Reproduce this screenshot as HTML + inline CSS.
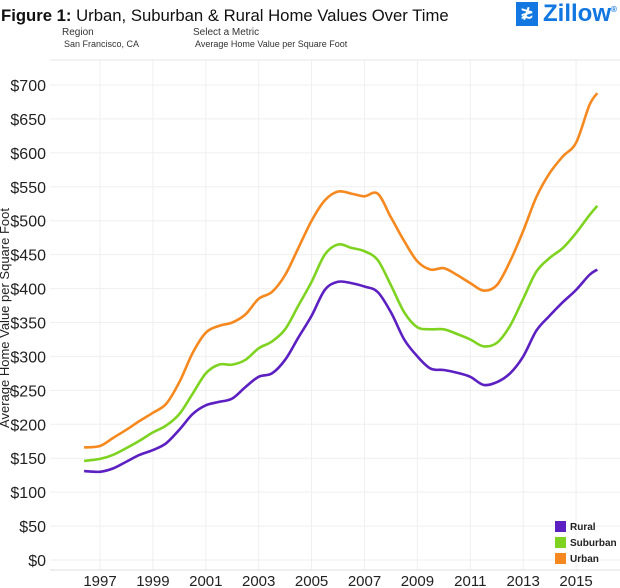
<!DOCTYPE html>
<html><head><meta charset="utf-8"><style>
body{margin:0;background:#fff;font-family:"Liberation Sans",Arial,sans-serif;}
#wrap{position:relative;width:620px;height:588px;overflow:hidden;}
</style></head><body>
<div id="wrap">
<div style="position:absolute;left:1px;top:6px;font-size:16.7px;color:#111;"><b>Figure 1:</b> Urban, Suburban &amp; Rural Home Values Over Time</div>
<div style="position:absolute;left:62px;top:27px;font-size:10px;color:#333;">Region</div>
<div style="position:absolute;left:64px;top:39px;font-size:9px;color:#333;">San Francisco, CA</div>
<div style="position:absolute;left:193px;top:27px;font-size:10px;color:#333;">Select a Metric</div>
<div style="position:absolute;left:195px;top:39px;font-size:9px;color:#333;">Average Home Value per Square Foot</div>
<div style="position:absolute;left:516px;top:2px;width:104px;height:26px;">
<div style="position:absolute;left:0;top:0;width:22px;height:24px;background:#1277e1;color:#fff;font-size:16px;line-height:24px;text-align:center;font-weight:bold;">≵</div>
<div style="position:absolute;left:27px;top:-2px;font-size:24px;font-weight:bold;color:#1277e1;">Zillow<sup style="font-size:8px">®</sup></div>
</div>
<svg id="chart" width="620" height="588" style="position:absolute;left:0;top:0"></svg>
</div>
<script>
const years=[1996.4,1997,1997.5,1998,1998.5,1999,1999.5,2000,2000.5,2001,2001.5,2002,2002.5,2003,2003.5,2004,2004.5,2005,2005.5,2006,2006.5,2007,2007.5,2008,2008.5,2009,2009.5,2010,2010.5,2011,2011.5,2012,2012.5,2013,2013.5,2014,2014.5,2015,2015.5,2015.8];
const urban=[166,168,180,192,205,217,230,262,305,335,345,350,362,385,395,420,460,500,530,543,540,536,540,505,470,440,428,430,420,408,397,405,440,485,535,570,595,615,670,688];
const suburban=[146,149,155,165,176,188,198,215,245,275,288,288,295,312,322,340,375,410,450,465,460,455,442,405,365,343,340,340,333,325,315,320,345,385,425,445,460,482,508,522];
const rural=[131,130,135,145,155,162,172,192,215,228,233,238,255,270,275,295,328,360,398,410,408,403,395,365,325,300,282,280,276,270,258,262,275,300,338,360,380,398,420,428];
const yTicks=[0,50,100,150,200,250,300,350,400,450,500,550,600,650,700];
const xTicks=[1997,1999,2001,2003,2005,2007,2009,2011,2013,2015];
const NS='http://www.w3.org/2000/svg';
const svg=document.getElementById('chart');
const xS=v=>100+(v-1997)*26.45;
const yS=v=>560-v*475/700;
function mk(t,a){const e=document.createElementNS(NS,t);for(const k in a)e.setAttribute(k,a[k]);svg.appendChild(e);return e;}
mk('line',{x1:50,x2:620,y1:60,y2:60,stroke:'#e6e6e6'});
yTicks.forEach(v=>{
 const g=mk('line',{x1:50,x2:620,y1:yS(v),y2:yS(v),stroke:'#efefef'});
 
 
 const t=mk('text',{x:46,y:yS(v)+6,'text-anchor':'end','font-size':16,fill:'#222'});
 t.textContent='$'+v;
 
 
});
xTicks.forEach(v=>{
 const g=mk('line',{x1:xS(v),x2:xS(v),y1:60,y2:570,stroke:'#efefef'});
 
 
 const t=mk('text',{x:xS(v),y:586,'text-anchor':'middle','font-size':15,fill:'#222'});
 t.textContent=v;
 
 
});
const ax=mk('line',{x1:50,x2:620,y1:570,y2:570,stroke:'#ddd'});


const yt=mk('text',{x:0,y:0,transform:'translate(9,318) rotate(-90)','text-anchor':'middle','font-size':13,fill:'#222'});
yt.textContent='Average Home Value per Square Foot';


function smooth(d){
 const P=d.map((v,i)=>[xS(years[i]),yS(v)]);
 let s='M'+P[0][0].toFixed(1)+','+P[0][1].toFixed(1);
 for(let i=0;i<P.length-1;i++){
  const p0=P[Math.max(0,i-1)],p1=P[i],p2=P[i+1],p3=P[Math.min(P.length-1,i+2)];
  const c1=[p1[0]+(p2[0]-p0[0])/6,p1[1]+(p2[1]-p0[1])/6];
  const c2=[p2[0]-(p3[0]-p1[0])/6,p2[1]-(p3[1]-p1[1])/6];
  s+='C'+c1.map(n=>n.toFixed(1))+' '+c2.map(n=>n.toFixed(1))+' '+p2.map(n=>n.toFixed(1));
 }
 return s;
}
[[rural,'#5b1fc2','rural-line'],[suburban,'#7ed321','suburban-line'],[urban,'#f5891f','urban-line']].forEach(([d,c,n])=>{
 const p=mk('path',{d:smooth(d),fill:'none',stroke:c,'stroke-width':2.6,'stroke-linejoin':'round'});
 
 
});
[['Rural','#5b1fc2'],['Suburban','#7ed321'],['Urban','#f5891f']].forEach(([l,c],i)=>{
 const r=mk('rect',{x:555,y:521+i*16,width:11,height:11,fill:c});
 
 
 const t=mk('text',{x:570,y:530+i*16,'font-size':10,'font-weight':'bold',fill:'#222'});
 t.textContent=l;
 
 
});
</script>
</body></html>
